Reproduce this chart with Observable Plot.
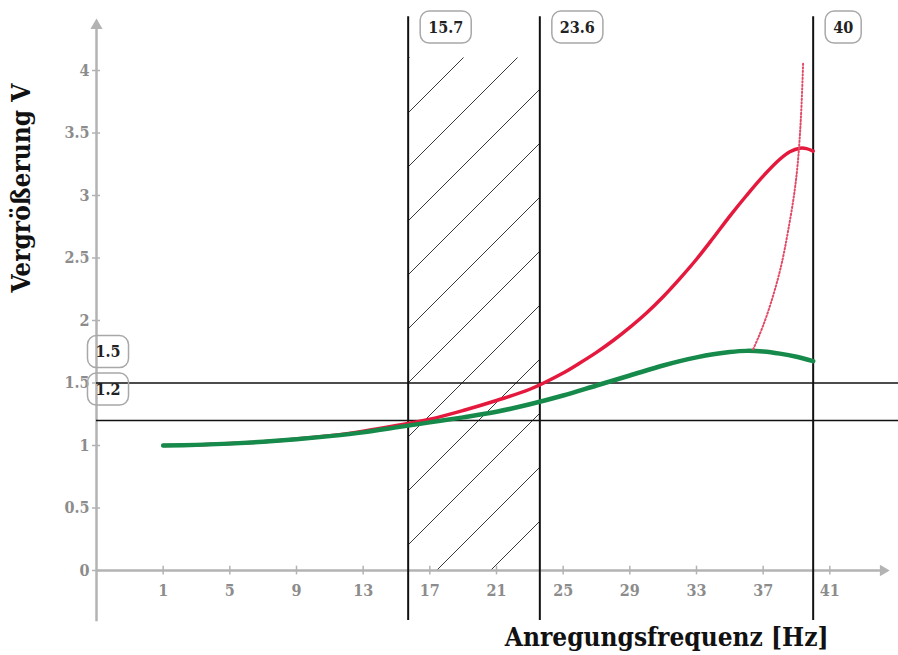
<!DOCTYPE html>
<html>
<head>
<meta charset="utf-8">
<script src="https://cdn.jsdelivr.net/npm/d3@7"></script>
<script src="https://cdn.jsdelivr.net/npm/@observablehq/plot@0.6"></script>
<style>
  body { margin: 0; background: #fff; }
</style>
</head>
<body>
<div id="chart"></div>
<script>
// Axis ticks
const freqTicks = [1, 5, 9, 13, 17, 21, 25, 29, 33, 37, 41];
const gainTicks = [0, 0.5, 1, 1.5, 2, 2.5, 3, 3.5, 4];
const gainTickLabels = ["0", "0.5", "1", "1.5", "2", "2.5", "3", "3.5", "4"];

// Marked frequencies [Hz] and magnification limits
const markerFreqs = [15.7, 23.6, 40];
const markerGains = [1.5, 1.2];

// Magnification, weakly damped system (red)
const redFreq = [1, 3, 5, 7, 9, 11, 13, 15, 17, 19, 21, 23, 25, 26, 27, 28, 29, 30, 31, 32, 33, 34, 35, 36, 37, 38, 38.6, 39.2, 39.6, 40];
const redGain = [1.0, 1.005, 1.016, 1.03, 1.052, 1.078, 1.115, 1.16, 1.21, 1.28, 1.36, 1.45, 1.58, 1.66, 1.745, 1.84, 1.945, 2.06, 2.19, 2.335, 2.49, 2.66, 2.835, 3.0, 3.155, 3.29, 3.35, 3.378, 3.375, 3.355];

// Magnification, strongly damped system (green)
const greenFreq = [1, 3, 5, 7, 9, 11, 13, 15, 17, 19, 21, 23, 25, 27, 29, 31, 32, 33, 34, 35, 36, 37, 38, 39, 40];
const greenGain = [1.0, 1.005, 1.015, 1.03, 1.05, 1.075, 1.105, 1.145, 1.185, 1.225, 1.27, 1.33, 1.4, 1.48, 1.56, 1.64, 1.675, 1.705, 1.73, 1.748, 1.757, 1.752, 1.735, 1.71, 1.675];

// Path of the resonance peak with decreasing damping (dotted)
const peakFreq = [36.4, 37.0, 37.6, 38.1, 38.5, 38.9, 39.15, 39.3, 39.4];
const peakGain = [1.77, 1.96, 2.2, 2.45, 2.72, 3.05, 3.38, 3.72, 4.07];

const red = redFreq.map((f, i) => ({f, v: redGain[i]}));
const green = greenFreq.map((f, i) => ({f, v: greenGain[i]}));
const peak = peakFreq.map((f, i) => ({f, v: peakGain[i]}));
const band = [{from: markerFreqs[0], to: markerFreqs[1]}];

const axisColor = "#b3b3b3";
const tickColor = "#8c8c8c";
const labelColor = "#222222";
const serif = "'DejaVu Serif Condensed', 'DejaVu Serif', serif";
const xMin = -3, xMax = 45.12;

// Diagonal hatching used for the band between the two marked frequencies
const hatchDefs = () => {
  const defs = d3.create("svg:defs");
  const p = defs.append("pattern")
    .attr("id", "hatch")
    .attr("patternUnits", "userSpaceOnUse")
    .attr("x", 35).attr("y", 0)
    .attr("width", 54).attr("height", 54);
  p.append("path")
    .attr("d", "M0,54L54,0M-6,6L6,-6M48,60L60,48")
    .attr("stroke", "#3a3a3a")
    .attr("stroke-width", 1)
    .attr("fill", "none");
  return defs.node();
};

// Filled triangle pointing right (x-axis arrow head)
const arrowRight = {
  draw(ctx, size) {
    const s = Math.sqrt(size / (3 * Math.sqrt(3)));
    ctx.moveTo(2 * s, 0);
    ctx.lineTo(-s, -Math.sqrt(3) * s);
    ctx.lineTo(-s, Math.sqrt(3) * s);
    ctx.closePath();
  }
};

const chart = Plot.plot({
  width: 898,
  height: 655,
  marginLeft: 96,
  marginRight: 0,
  marginTop: 0,
  marginBottom: 0,
  x: {domain: [xMin, xMax], axis: null},
  y: {domain: [-0.68, 4.56], axis: null},
  style: {background: "white", overflow: "visible"},
  marks: [
    hatchDefs,
    Plot.rect(band, {x1: "from", x2: "to", y1: 0, y2: 4.1, fill: "url(#hatch)"}),

    // axes
    Plot.ruleX([xMin], {y1: -0.41, y2: 4.36, stroke: axisColor, strokeWidth: 2.5}),
    Plot.ruleY([0], {x1: xMin, x2: 44.2, stroke: axisColor, strokeWidth: 2.5}),
    Plot.ruleY(gainTicks, {x1: xMin - 0.24, x2: xMin + 0.24, stroke: axisColor, strokeWidth: 1.5}),
    Plot.ruleX(freqTicks, {y1: -0.035, y2: 0.035, stroke: axisColor, strokeWidth: 1.5}),
    Plot.dot([4.36], {x: xMin, y: d => d, symbol: "triangle", r: 4.5, fill: axisColor, stroke: null}),
    Plot.dot([44.2], {x: d => d, y: 0, symbol: arrowRight, r: 4.2, fill: axisColor, stroke: null}),
    Plot.text(gainTicks, {
      x: xMin, y: d => d, text: (d, i) => gainTickLabels[i],
      textAnchor: "end", dx: -7, fill: tickColor, fontWeight: "bold", fontSize: 16, fontFamily: serif
    }),
    Plot.text(freqTicks, {
      x: d => d, y: 0, text: d => String(d), dy: 20,
      fill: tickColor, fontWeight: "bold", fontSize: 16, fontFamily: serif
    }),

    // marked frequencies and limits
    Plot.ruleX(markerFreqs, {y1: -0.4, y2: 4.43, stroke: "#111", strokeWidth: 2}),
    Plot.ruleY(markerGains, {x1: xMin, x2: xMax, stroke: "#111", strokeWidth: 1.5}),

    // magnification curves
    Plot.line(red, {x: "f", y: "v", curve: "catmull-rom", stroke: "#e4193d", strokeWidth: 3.5}),
    Plot.line(green, {x: "f", y: "v", curve: "catmull-rom", stroke: "#168a4a", strokeWidth: 4.5}),
    Plot.line(peak, {x: "f", y: "v", curve: "natural", stroke: "#e24a66", strokeWidth: 2, strokeDasharray: "1.3,2.2"}),

    // value labels (framed after rendering)
    Plot.text(markerFreqs, {
      x: d => d, frameAnchor: "top", dx: 20, dy: 27, text: d => String(d),
      textAnchor: "start", lineAnchor: "middle", fill: labelColor, fontWeight: "bold", fontSize: 16,
      fontFamily: serif
    }),
    Plot.text(markerGains, {
      x: xMin, y: d => d, dx: 11.5, dy: -31, text: d => String(d),
      textAnchor: "middle", fill: labelColor, fontWeight: "bold", fontSize: 16,
      fontFamily: serif
    }),

    // axis titles
    Plot.text(["Vergrößerung V"], {
      frameAnchor: "left", dx: -75, dy: -140, rotate: -90, textAnchor: "middle", lineAnchor: "middle",
      fill: "#111", fontWeight: "bold", fontSize: 26, fontFamily: serif
    }),
    Plot.text(["Anregungsfrequenz [Hz]"], {
      frameAnchor: "bottom-right", dx: -70, dy: -18, textAnchor: "end", lineAnchor: "middle",
      fill: "#111", fontWeight: "bold", fontSize: 26, fontFamily: serif
    })
  ]
});

document.getElementById("chart").append(chart);

// Rounded frames around the value labels
const svgNS = "http://www.w3.org/2000/svg";
Array.from(chart.querySelectorAll("g")).forEach(g => {
  if (g.getAttribute("fill") !== labelColor) return;
  Array.from(g.querySelectorAll("text")).forEach(t => {
    const b = t.getBBox();
    const padX = 8, h = 32;
    const r = document.createElementNS(svgNS, "rect");
    r.setAttribute("x", b.x - padX);
    r.setAttribute("y", b.y + b.height / 2 - h / 2);
    r.setAttribute("width", b.width + 2 * padX);
    r.setAttribute("height", h);
    r.setAttribute("rx", 9);
    r.setAttribute("fill", "none");
    r.setAttribute("stroke", "#a8a8a8");
    r.setAttribute("stroke-width", 1.5);
    const tr = t.getAttribute("transform");
    if (tr) r.setAttribute("transform", tr);
    t.parentNode.insertBefore(r, t);
  });
});
</script>
</body>
</html>
